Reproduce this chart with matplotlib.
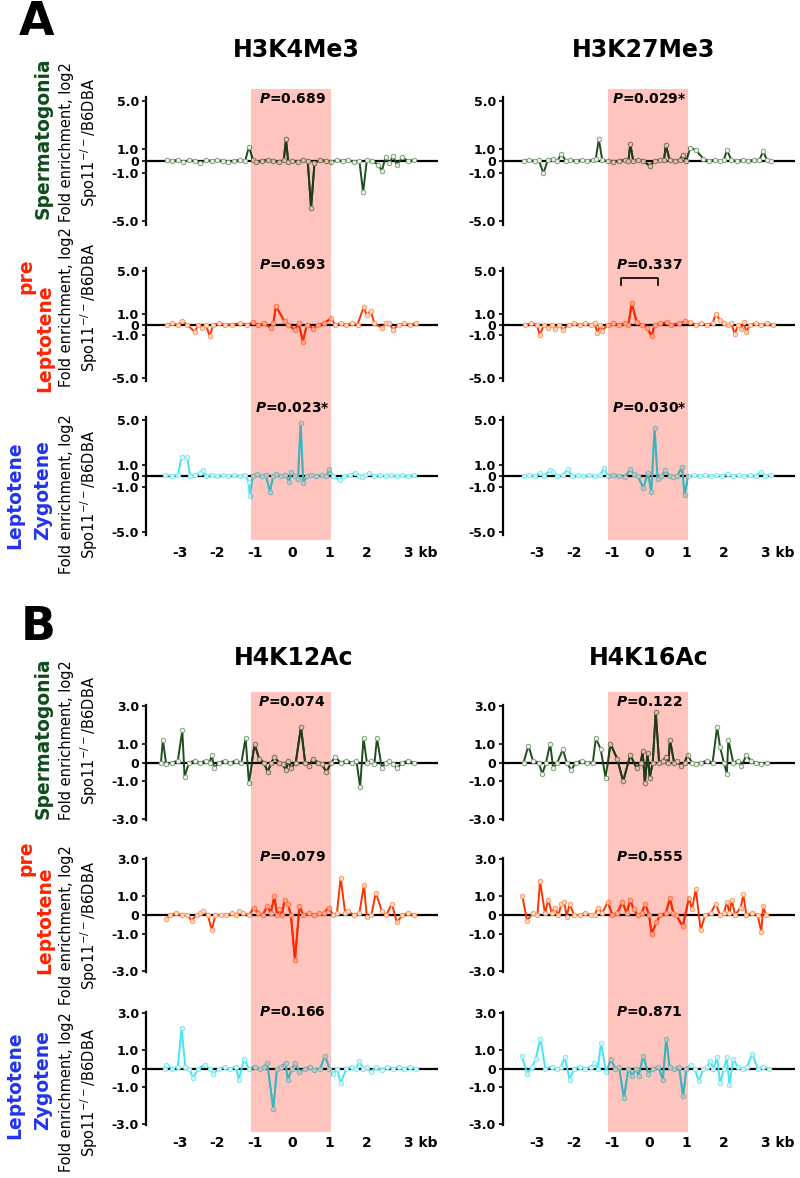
import matplotlib
matplotlib.use('Agg')
import matplotlib.pyplot as plt
from matplotlib.patches import Rectangle
from matplotlib.lines import Line2D
from matplotlib.colors import to_rgb
from matplotlib.transforms import blended_transform_factory

plt.rcParams['font.family'] = 'DejaVu Sans'
plt.rcParams['mathtext.fontset'] = 'custom'
plt.rcParams['mathtext.it'] = 'DejaVu Sans:italic:bold'
plt.rcParams['mathtext.rm'] = 'DejaVu Sans'

# ---------------- data (x in kb, y = log2 fold enrichment) ----------------
h3k4_spg = [(-3.35,0.1),(-3.2,0.0),(-3.05,0.1),(-2.9,-0.1),(-2.75,0.1),(-2.6,0.0),(-2.45,-0.2),(-2.3,0.1),(-2.15,0.0),(-2.0,0.1),
            (-1.85,0.0),(-1.7,-0.1),(-1.55,0.0),(-1.4,0.1),(-1.25,0.0),(-1.15,1.2),(-1.05,0.1),(-0.95,-0.1),(-0.8,0.0),(-0.65,0.1),
            (-0.5,0.0),(-0.35,-0.1),(-0.22,0.1),(-0.16,1.8),(-0.1,-0.1),(0.0,0.0),(0.15,-0.1),(0.3,0.1),(0.42,0.0),(0.51,-3.9),
            (0.6,-0.2),(0.75,0.1),(0.9,0.0),(1.05,-0.1),(1.2,0.1),(1.35,0.0),(1.5,0.1),(1.65,-0.1),(1.8,0.0),(1.9,-2.6),
            (2.0,0.1),(2.15,0.0),(2.3,-0.3),(2.4,-0.8),(2.5,0.3),(2.6,-0.2),(2.7,0.4),(2.8,-0.3),(2.95,0.3),(3.1,0.0),(3.25,0.1)]
h3k27_spg = [(-3.35,0.0),(-3.2,0.1),(-3.05,0.0),(-2.95,0.1),(-2.82,-1.0),(-2.7,0.1),(-2.56,0.2),(-2.45,0.0),(-2.34,0.6),(-2.22,0.0),
             (-2.1,0.1),(-1.95,0.0),(-1.8,0.1),(-1.65,0.0),(-1.5,0.1),(-1.42,0.2),(-1.34,1.8),(-1.25,0.1),(-1.1,0.0),(-0.95,-0.1),
             (-0.8,0.0),(-0.65,0.1),(-0.55,0.0),(-0.5,1.4),(-0.42,0.0),(-0.3,0.1),(-0.15,0.0),(0.02,-0.4),(0.15,0.0),(0.3,0.1),
             (0.4,0.1),(0.45,1.3),(0.55,0.1),(0.7,0.0),(0.82,0.1),(0.9,0.5),(1.0,0.0),(1.1,1.1),(1.25,0.9),(1.45,0.2),
             (1.6,0.0),(1.75,0.1),(1.9,0.0),(2.0,0.1),(2.08,0.9),(2.2,0.1),(2.35,0.0),(2.5,0.1),(2.65,0.0),(2.8,0.1),
             (2.95,0.1),(3.05,0.8),(3.15,0.1),(3.25,0.0)]
h3k4_pre = [(-3.35,0.0),(-3.2,0.1),(-3.05,0.0),(-2.93,0.3),(-2.8,0.0),(-2.6,-0.7),(-2.5,0.0),(-2.4,-0.3),(-2.3,0.0),(-2.2,-1.1),
            (-2.1,0.0),(-1.95,0.1),(-1.8,0.0),(-1.6,0.0),(-1.4,0.1),(-1.2,0.0),(-1.05,0.2),(-0.9,0.0),(-0.75,0.1),(-0.57,-0.3),
            (-0.5,0.1),(-0.43,1.7),(-0.2,0.3),(-0.1,0.0),(0.07,-0.5),(0.18,0.1),(0.29,-1.6),(0.4,0.0),(0.56,-0.4),(0.7,0.0),
            (0.85,0.1),(1.05,0.6),(1.15,0.0),(1.3,0.1),(1.45,0.0),(1.6,0.1),(1.75,0.0),(1.91,1.6),(2.0,0.9),(2.1,1.3),
            (2.2,0.1),(2.4,-0.3),(2.5,0.1),(2.6,0.1),(2.7,-0.5),(2.85,0.0),(3.0,0.1),(3.15,0.0),(3.3,0.1)]
h3k27_pre = [(-3.3,0.0),(-3.15,0.1),(-3.0,0.0),(-2.92,-1.0),(-2.8,0.0),(-2.7,-0.3),(-2.6,0.0),(-2.52,-0.4),(-2.4,0.0),(-2.3,-0.5),
             (-2.15,0.0),(-2.0,0.1),(-1.85,0.0),(-1.7,0.1),(-1.55,0.0),(-1.45,0.1),(-1.38,-0.8),(-1.3,0.0),(-1.25,-0.6),(-1.1,0.0),
             (-0.95,0.1),(-0.8,0.0),(-0.65,0.1),(-0.55,0.0),(-0.46,2.0),(-0.33,0.2),(-0.2,0.0),(-0.05,-0.3),(0.07,-1.1),(0.15,0.0),
             (0.3,0.1),(0.47,0.2),(0.6,0.0),(0.8,0.1),(0.97,0.3),(1.1,0.2),(1.25,0.0),(1.4,0.1),(1.55,0.0),(1.7,0.1),
             (1.78,1.0),(1.9,0.4),(2.0,0.1),(2.1,0.0),(2.2,0.1),(2.29,-0.9),(2.38,0.0),(2.46,-0.4),(2.53,0.2),(2.6,-0.7),
             (2.7,0.0),(2.85,0.1),(3.0,0.0),(3.15,0.1),(3.3,0.0)]
h3k4_lz = [(-3.4,0.1),(-3.2,0.0),(-3.05,0.1),(-2.95,1.7),(-2.8,1.7),(-2.72,0.0),(-2.6,0.1),(-2.46,0.3),(-2.37,0.5),(-2.3,0.0),
           (-2.15,0.1),(-2.0,0.0),(-1.85,0.1),(-1.7,0.0),(-1.55,0.1),(-1.4,0.0),(-1.25,0.1),(-1.16,-0.5),(-1.13,-1.8),(-1.05,0.0),
           (-0.93,0.2),(-0.8,0.0),(-0.7,0.1),(-0.59,-1.4),(-0.5,0.0),(-0.43,0.2),(-0.3,0.0),(-0.18,0.1),(-0.07,-0.5),(-0.02,0.4),
           (0.08,0.0),(0.16,-0.3),(0.23,4.8),(0.3,-0.6),(0.4,0.0),(0.5,0.1),(0.65,0.0),(0.8,0.1),(0.92,0.0),(1.0,0.6),
           (1.1,0.0),(1.28,-0.4),(1.4,0.0),(1.55,0.1),(1.69,0.3),(1.78,0.0),(1.87,-0.1),(1.96,0.1),(2.05,0.3),(2.2,0.0),
           (2.35,0.1),(2.5,0.0),(2.65,0.1),(2.8,0.0),(2.95,0.1),(3.1,0.0),(3.25,0.1)]
h3k27_lz = [(-3.35,0.0),(-3.2,0.1),(-3.05,0.0),(-2.91,0.3),(-2.8,0.0),(-2.65,0.5),(-2.56,0.4),(-2.45,0.0),(-2.3,0.1),(-2.17,0.6),
            (-2.05,0.0),(-1.9,0.1),(-1.75,0.0),(-1.6,0.1),(-1.45,0.0),(-1.3,0.1),(-1.2,0.7),(-1.1,0.0),(-0.95,0.1),(-0.8,0.0),
            (-0.65,-0.1),(-0.5,0.6),(-0.41,0.2),(-0.3,0.0),(-0.15,-1.1),(-0.03,0.3),(0.06,-1.4),(0.15,4.3),(0.23,-0.3),(0.33,0.0),
            (0.44,0.5),(0.55,0.0),(0.65,-0.1),(0.75,0.0),(0.88,0.8),(0.95,-1.7),(1.05,0.0),(1.2,0.1),(1.35,0.0),(1.5,0.1),
            (1.65,0.0),(1.8,0.1),(1.95,0.0),(2.1,0.2),(2.25,0.0),(2.4,0.1),(2.55,0.0),(2.7,0.1),(2.85,0.0),(3.0,0.4),
            (3.1,0.0),(3.25,0.1)]

h4k12_spg = [(-3.5,0.0),(-3.45,1.2),(-3.36,-0.1),(-3.2,0.0),(-3.05,0.1),(-2.93,1.7),(-2.87,-0.75),(-2.75,0.0),(-2.6,0.1),(-2.45,0.0),
             (-2.3,0.1),(-2.2,0.0),(-2.14,0.4),(-2.08,-0.3),(-1.95,0.0),(-1.8,0.1),(-1.65,0.0),(-1.5,0.1),(-1.35,0.0),(-1.24,1.3),
             (-1.15,-1.1),(-1.0,1.0),(-0.88,0.2),(-0.75,0.0),(-0.65,-0.5),(-0.55,0.0),(-0.47,0.3),(-0.35,0.0),(-0.25,-0.1),(-0.16,-0.4),
             (-0.1,0.1),(-0.03,-0.3),(0.1,0.0),(0.24,1.9),(0.35,0.0),(0.45,-0.2),(0.56,0.2),(0.7,0.0),(0.8,-0.1),(0.92,-0.5),
             (1.05,0.0),(1.15,0.3),(1.3,0.0),(1.45,0.1),(1.6,0.0),(1.72,0.1),(1.82,-1.3),(1.91,1.3),(2.0,0.0),(2.12,0.1),
             (2.2,-0.1),(2.27,1.3),(2.4,-0.3),(2.5,0.0),(2.6,0.1),(2.7,-0.1),(2.8,-0.3),(2.95,0.0),(3.1,0.1),(3.25,0.0)]
h4k16_spg = [(-3.35,0.0),(-3.22,0.9),(-3.1,0.1),(-2.95,0.0),(-2.85,-0.6),(-2.75,0.0),(-2.64,1.0),(-2.56,-0.3),(-2.45,0.0),(-2.3,0.7),
             (-2.2,0.0),(-2.08,-0.4),(-1.95,0.0),(-1.8,0.1),(-1.65,0.0),(-1.5,0.0),(-1.42,1.3),(-1.29,0.7),(-1.16,-0.8),(-1.03,1.0),
             (-0.85,0.2),(-0.69,-1.0),(-0.5,0.4),(-0.33,-0.3),(-0.22,0.0),(-0.17,0.6),(-0.11,-1.1),(-0.04,0.5),(0.02,-0.8),(0.1,0.0),
             (0.18,2.7),(0.27,0.0),(0.37,0.1),(0.46,0.3),(0.52,0.0),(0.56,1.2),(0.67,0.0),(0.75,0.1),(0.85,-0.2),(0.95,0.0),
             (1.03,0.4),(1.15,0.0),(1.25,-0.1),(1.4,0.0),(1.55,0.1),(1.7,0.0),(1.82,1.9),(1.9,0.8),(2.0,0.0),(2.08,-0.6),
             (2.12,1.2),(2.25,0.0),(2.38,0.1),(2.47,-0.2),(2.6,0.4),(2.72,0.1),(2.85,0.0),(3.0,-0.1),(3.15,0.0)]
h4k12_pre = [(-3.36,-0.2),(-3.25,0.0),(-3.1,0.1),(-2.95,0.0),(-2.8,0.0),(-2.68,-0.3),(-2.55,0.0),(-2.45,0.1),(-2.37,0.2),(-2.25,0.0),
             (-2.14,-0.8),(-2.05,0.0),(-1.9,0.0),(-1.75,0.0),(-1.6,0.1),(-1.5,0.0),(-1.42,0.2),(-1.3,0.1),(-1.15,0.0),(-1.02,0.4),
             (-0.9,0.1),(-0.78,0.0),(-0.66,0.5),(-0.57,0.1),(-0.47,1.0),(-0.4,0.0),(-0.34,0.3),(-0.27,0.0),(-0.2,0.8),(-0.11,0.6),
             (-0.03,0.0),(0.08,-2.4),(0.2,0.5),(0.3,0.0),(0.45,0.1),(0.6,0.0),(0.72,0.1),(0.85,0.1),(0.98,0.4),(1.1,0.0),
             (1.2,0.1),(1.3,2.0),(1.42,0.1),(1.5,0.2),(1.65,0.0),(1.8,0.1),(1.92,1.6),(2.0,-0.1),(2.12,0.0),(2.24,1.2),
             (2.4,0.2),(2.52,0.0),(2.67,0.6),(2.8,-0.4),(2.95,0.0),(3.1,0.1),(3.25,0.0)]
h4k16_pre = [(-3.38,1.0),(-3.26,-0.3),(-3.1,0.1),(-2.98,0.0),(-2.91,1.8),(-2.78,0.1),(-2.69,0.8),(-2.6,0.1),(-2.52,0.4),(-2.42,0.0),
             (-2.34,0.6),(-2.26,0.7),(-2.2,-0.1),(-2.12,0.6),(-2.0,0.0),(-1.85,0.0),(-1.7,0.1),(-1.55,0.0),(-1.45,0.0),(-1.37,0.4),
             (-1.25,0.1),(-1.1,0.7),(-0.98,0.0),(-0.85,0.1),(-0.71,0.7),(-0.6,0.1),(-0.5,0.8),(-0.41,0.3),(-0.3,0.0),(-0.2,0.1),
             (-0.1,0.6),(0.0,0.0),(0.07,-1.0),(0.2,-0.4),(0.3,0.0),(0.45,0.1),(0.56,0.9),(0.65,0.1),(0.72,0.0),(0.9,-0.6),
             (1.07,0.9),(1.15,0.3),(1.25,1.4),(1.38,-0.8),(1.5,0.0),(1.65,0.1),(1.78,0.6),(1.9,0.0),(2.0,0.1),(2.08,0.7),
             (2.15,0.1),(2.21,0.8),(2.3,0.0),(2.45,0.4),(2.52,1.1),(2.6,0.0),(2.75,0.1),(2.9,0.0),(3.0,-0.9),(3.05,0.5),(3.12,0.0)]
h4k12_lz = [(-3.4,0.0),(-3.36,0.2),(-3.2,0.0),(-3.05,0.1),(-2.95,2.2),(-2.85,0.1),(-2.75,0.0),(-2.64,-0.5),(-2.5,0.0),(-2.33,0.2),
            (-2.2,0.0),(-2.1,-0.3),(-1.95,0.0),(-1.8,0.1),(-1.65,0.0),(-1.5,0.1),(-1.42,-0.6),(-1.28,0.5),(-1.15,0.0),(-1.0,0.1),
            (-0.85,0.0),(-0.75,0.1),(-0.66,0.3),(-0.5,-2.2),(-0.4,0.0),(-0.3,0.1),(-0.17,0.3),(-0.11,-0.6),(0.0,0.0),(0.09,0.3),
            (0.2,-0.2),(0.35,0.0),(0.48,0.1),(0.6,-0.1),(0.75,0.0),(0.88,0.7),(1.0,0.0),(1.1,-0.3),(1.2,0.0),(1.3,-0.8),
            (1.45,0.0),(1.6,0.1),(1.72,0.0),(1.8,0.4),(1.9,0.0),(2.0,0.1),(2.1,-0.2),(2.25,0.1),(2.4,-0.1),(2.55,0.1),
            (2.7,0.0),(2.85,0.1),(3.0,0.0),(3.15,0.1),(3.3,0.0)]
h4k16_lz = [(-3.4,0.7),(-3.25,-0.3),(-3.12,0.1),(-3.03,0.5),(-2.9,1.6),(-2.77,0.0),(-2.6,0.1),(-2.45,0.0),(-2.35,0.1),(-2.25,0.6),
            (-2.12,-0.6),(-2.0,0.0),(-1.85,0.1),(-1.7,0.0),(-1.55,0.1),(-1.46,0.3),(-1.37,0.0),(-1.28,1.4),(-1.15,-0.2),(-1.02,0.5),
            (-0.9,0.0),(-0.8,0.1),(-0.67,-1.6),(-0.55,0.0),(-0.45,-0.4),(-0.35,0.0),(-0.28,-0.4),(-0.15,0.7),(-0.02,-0.3),(0.1,0.0),
            (0.25,0.1),(0.37,-0.6),(0.46,1.6),(0.55,0.1),(0.68,0.0),(0.8,0.1),(0.91,-1.5),(1.0,0.0),(1.11,0.2),(1.22,0.0),
            (1.33,-0.7),(1.45,0.0),(1.55,0.1),(1.64,0.4),(1.72,0.0),(1.82,0.6),(1.9,-0.8),(2.0,0.0),(2.08,0.6),(2.15,-0.9),
            (2.25,0.5),(2.37,0.1),(2.5,0.0),(2.62,0.1),(2.76,0.8),(2.9,0.0),(3.05,0.1),(3.2,0.0)]

marks_A = ["H3K4Me3", "H3K27Me3"]
marks_B = ["H4K12Ac", "H4K16Ac"]
pvals_A = [["0.689", "0.029*"], ["0.693", "0.337"], ["0.023*", "0.030*"]]
pvals_B = [["0.074", "0.122"], ["0.079", "0.555"], ["0.166", "0.871"]]
series_A = [[h3k4_spg, h3k27_spg], [h3k4_pre, h3k27_pre], [h3k4_lz, h3k27_lz]]
series_B = [[h4k12_spg, h4k16_spg], [h4k12_pre, h4k16_pre], [h4k12_lz, h4k16_lz]]
yticks_A = [5.0, 1.0, 0.0, -1.0, -5.0]
yticklabels_A = ["5.0", "1.0", "0", "-1.0", "-5.0"]
yticks_B = [3.0, 1.0, 0.0, -1.0, -3.0]
yticklabels_B = ["3.0", "1.0", "0", "-1.0", "-3.0"]
xticks = [-3, -2, -1, 0, 1, 2, 3]
xticklabels = ["-3", "-2", "-1", "0", "1", "2", "3 kb"]
region = (-1.1, 1.05)
ylabel_text = "Fold enrichment, log2\nSpo11$^{-/-}$/B6DBA"

# ---------------- styles ----------------
pink = "#ffc4be"
line_styles = [
    dict(color="#1f4d1f", mfc="#eef5ea", mec="#7fa07a"),
    dict(color="#ff3300", mfc="#ffd9c0", mec="#ff9966"),
    dict(color="#45e4f3", mfc="#d0f8fb", mec="#80eaf2"),
]
stage_color = ["#0f4a1a", "#ff2200", "#2233ee"]


def multiply(c):
    a = to_rgb(c)
    b = to_rgb(pink)
    return tuple(x * y for x, y in zip(a, b))


W, H = 800, 1178
fig = plt.figure(figsize=(W / 100, H / 100), dpi=100)


def fx(px):
    return px / W


def fy(py):
    return 1 - py / H


col_left = [146, 503]
col_w = 292
rows_px = {"A": [(97, 225), (268, 381), (417, 535)],
           "B": [(705, 820), (858, 972), (1012, 1125)]}
pink_px = {"A": (89, 540), "B": (692, 1132)}
title_px = {"A": [(296, 50), (644, 50)], "B": [(294, 658), (649, 658)]}
ptext_y = {"A": [99, 265, 408], "B": [702, 857, 1012]}
letter_px = {"A": (19, 35), "B": (21, 640)}
ylabel_y = {"A": [142, 307, 494], "B": [740, 925, 1092]}
stage_px = {
    "A": [[("Spermatogonia", 43, 138)], [("pre", 26, 276), ("Leptotene", 45, 338)],
          [("Leptotene", 15, 495), ("Zygotene", 43, 490)]],
    "B": [[("Spermatogonia", 43, 738)], [("pre", 26, 858), ("Leptotene", 45, 920)],
          [("Leptotene", 15, 1085), ("Zygotene", 43, 1080)]],
}

panels = [("A", marks_A, pvals_A, series_A, yticks_A, yticklabels_A, 5.3),
          ("B", marks_B, pvals_B, series_B, yticks_B, yticklabels_B, 3.05)]

for key, marks, pvals, series, yt, ytl, ylim in panels:
    fig.text(fx(letter_px[key][0]), fy(letter_px[key][1]), key, fontsize=33,
             fontweight="bold", ha="left", va="baseline")
    for c in range(2):
        tx, ty = title_px[key][c]
        fig.text(fx(tx), fy(ty), marks[c], fontsize=17, fontweight="bold",
                 ha="center", va="center")
        top_ax = None
        for r in range(3):
            top, bot = rows_px[key][r]
            ax = fig.add_axes([fx(col_left[c]), fy(bot), col_w / W, (bot - top) / H])
            if top_ax is None:
                top_ax = ax
            ax.set_facecolor("none")
            ax.set_xlim(-3.9, 3.9)
            ax.set_ylim(-ylim, ylim)
            ax.axhline(0, color="black", lw=1.6, zorder=1)
            pts = series[r][c]
            xs = [p[0] for p in pts]
            ys = [p[1] for p in pts]
            st = line_styles[r]
            ax.plot(xs, ys, color=st["color"], lw=1.4, marker="o", ms=3.2,
                    mfc=st["mfc"], mec=st["mec"], mew=0.7, zorder=2)
            # same line seen through the shaded region (multiplied colours)
            clip = Rectangle((region[0], -ylim), region[1] - region[0], 2 * ylim,
                             transform=ax.transData)
            inner = ax.plot(xs, ys, color=multiply(st["color"]), lw=1.4, marker="o",
                            ms=3.2, mfc=multiply(st["mfc"]), mec=multiply(st["mec"]),
                            mew=0.7, zorder=3)[0]
            inner.set_clip_path(clip)
            for s in ["top", "right", "bottom"]:
                ax.spines[s].set_visible(False)
            ax.spines["left"].set_linewidth(1.6)
            ax.set_yticks(yt)
            ax.set_yticklabels(ytl, fontsize=9, fontweight="bold")
            ax.tick_params(axis="y", length=3, width=1.2, pad=2)
            if r == 2:
                ax.set_xticks(xticks)
                ax.set_xticklabels(xticklabels, fontsize=10, fontweight="bold")
                ax.get_xticklabels()[-1].set_horizontalalignment("left")
                ax.tick_params(axis="x", length=0, pad=8)
            else:
                ax.set_xticks([])
            # p-value text
            tr = blended_transform_factory(ax.transData, fig.transFigure)
            fig.text(0.0, fy(ptext_y[key][r]), r"$P$=" + pvals[r][c],
                     transform=tr, fontsize=10, fontweight="bold",
                     ha="center", va="center", zorder=10)
            if key == "A" and r == 1 and c == 1:
                br = Line2D([-0.74, -0.74, 0.23, 0.23],
                            [fy(285), fy(278), fy(278), fy(285)],
                            transform=tr, color="black", lw=1.2, zorder=10)
                fig.add_artist(br)
        # shaded region spanning the three rows, drawn beneath the axes
        trp = blended_transform_factory(top_ax.transData, fig.transFigure)
        p0, p1 = pink_px[key]
        rect = Rectangle((region[0], fy(p1)), region[1] - region[0], (p1 - p0) / H,
                         transform=trp, facecolor=pink, edgecolor="none", zorder=-1)
        fig.add_artist(rect)

    for r in range(3):
        for (txt, px, py) in stage_px[key][r]:
            fig.text(fx(px), fy(py), txt, rotation=90, fontsize=13.5,
                     fontweight="bold", color=stage_color[r], ha="center", va="center")
        fig.text(fx(79.5), fy(ylabel_y[key][r]), ylabel_text, rotation=90,
                 fontsize=10.5, ha="center", va="center", multialignment="center",
                 linespacing=1.3)

fig.savefig("out.png", dpi=100)
